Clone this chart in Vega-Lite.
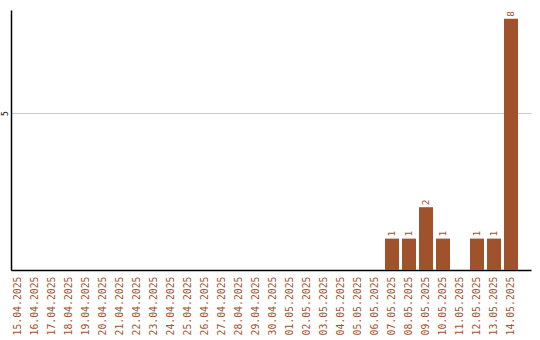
{
  "$schema": "https://vega.github.io/schema/vega-lite/v6.json",
  "width": 520,
  "height": 260,
  "autosize": {"type": "none"},
  "padding": {"left": 11, "top": 10, "right": 9, "bottom": 70},
  "background": "white",
  "config": {
    "view": {"stroke": null},
    "font": "DejaVu Sans Mono",
    "axis": {"domainColor": "black", "domainOpacity": 1}
  },
  "data": {
    "values": [
      {"date": "15.04.2025", "count": 0},
      {"date": "16.04.2025", "count": 0},
      {"date": "17.04.2025", "count": 0},
      {"date": "18.04.2025", "count": 0},
      {"date": "19.04.2025", "count": 0},
      {"date": "20.04.2025", "count": 0},
      {"date": "21.04.2025", "count": 0},
      {"date": "22.04.2025", "count": 0},
      {"date": "23.04.2025", "count": 0},
      {"date": "24.04.2025", "count": 0},
      {"date": "25.04.2025", "count": 0},
      {"date": "26.04.2025", "count": 0},
      {"date": "27.04.2025", "count": 0},
      {"date": "28.04.2025", "count": 0},
      {"date": "29.04.2025", "count": 0},
      {"date": "30.04.2025", "count": 0},
      {"date": "01.05.2025", "count": 0},
      {"date": "02.05.2025", "count": 0},
      {"date": "03.05.2025", "count": 0},
      {"date": "04.05.2025", "count": 0},
      {"date": "05.05.2025", "count": 0},
      {"date": "06.05.2025", "count": 0},
      {"date": "07.05.2025", "count": 1},
      {"date": "08.05.2025", "count": 1},
      {"date": "09.05.2025", "count": 2},
      {"date": "10.05.2025", "count": 1},
      {"date": "11.05.2025", "count": 0},
      {"date": "12.05.2025", "count": 1},
      {"date": "13.05.2025", "count": 1},
      {"date": "14.05.2025", "count": 8}
    ]
  },
  "encoding": {
    "x": {
      "field": "date",
      "type": "ordinal",
      "sort": null,
      "scale": {"paddingInner": 0.176, "paddingOuter": 0.382, "align": 0},
      "axis": {
        "title": null,
        "labelAngle": -90,
        "labelFont": "DejaVu Sans Mono",
        "labelFontSize": 9.8,
        "labelColor": "#A0522D",
        "labelPadding": 6,
        "ticks": false,
        "domainColor": "black",
        "domainWidth": 1.5
      }
    },
    "y": {
      "field": "count",
      "type": "quantitative",
      "scale": {"domain": [0, 8.28], "nice": false},
      "axis": {
        "title": null,
        "values": [5],
        "ticks": false,
        "grid": true,
        "gridColor": "#c8c8c8",
        "domainColor": "black",
        "domainWidth": 1.5,
        "labelAngle": -90,
        "labelAlign": "center",
        "labelBaseline": "bottom",
        "labelFontSize": 8,
        "labelColor": "black",
        "labelPadding": 2
      }
    }
  },
  "layer": [
    {
      "mark": {"type": "bar", "color": "#A0522D"}
    },
    {
      "transform": [{"filter": "datum.count > 0"}],
      "mark": {
        "type": "text",
        "angle": 270,
        "align": "left",
        "baseline": "middle",
        "dx": 2,
        "fontSize": 9.5,
        "font": "DejaVu Sans Mono",
        "color": "#A0522D"
      },
      "encoding": {
        "text": {"field": "count", "type": "quantitative"}
      }
    }
  ]
}
